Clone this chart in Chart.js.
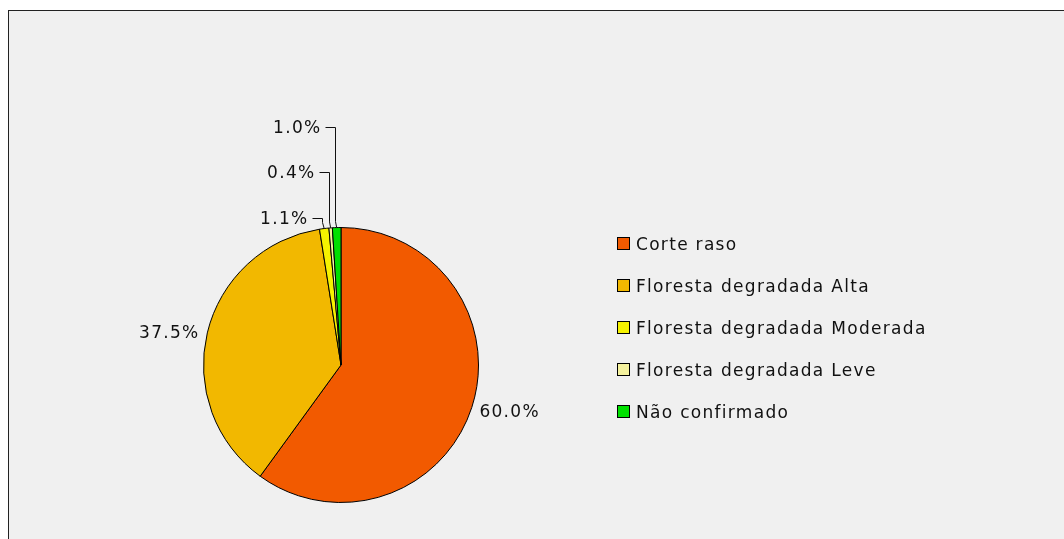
<!DOCTYPE html>
<html>
<head>
<meta charset="utf-8">
<script src="https://cdn.jsdelivr.net/npm/chart.js@4"></script>
<style>
  body { margin: 0; background: #fff; }
  #box { position: absolute; left: 8px; top: 10px; width: 1100px; height: 600px;
         background: #f0f0f0; border-left: 1px solid #222; border-top: 1px solid #222; }
  #myChart { position: absolute; left: 0; top: 0; }
</style>
</head>
<body>
<div id="box"></div>
<canvas id="myChart" width="1064" height="539"></canvas>
<script>
const categories = ["Corte raso", "Floresta degradada Alta", "Floresta degradada Moderada", "Floresta degradada Leve", "Não confirmado"];
const shares = [60.0, 37.5, 1.1, 0.4, 1.0];
const sliceColors = ["#f25a00", "#f2b800", "#f5f200", "#f5f29e", "#00e000"];

const FONT = '17px "DejaVu Sans", sans-serif';
const SPACING = "1.3px";

// percentage labels, with leader lines for the thin slices
const sliceLabels = {
  id: "sliceLabels",
  afterDatasetsDraw(chart) {
    const ctx = chart.ctx;
    const arcs = chart.getDatasetMeta(0).data;
    ctx.save();
    ctx.font = FONT;
    ctx.letterSpacing = SPACING;
    ctx.fillStyle = "#111";
    ctx.strokeStyle = "#111";
    ctx.lineWidth = 1;
    ctx.textBaseline = "middle";
    let k = 0;
    arcs.forEach((arc, i) => {
      const mid = (arc.startAngle + arc.endAngle) / 2;
      const r = arc.outerRadius;
      const text = shares[i].toFixed(1) + "%";
      if (shares[i] >= 5) {
        const lx = arc.x + Math.cos(mid) * (r + 8);
        const ly = arc.y + Math.sin(mid) * (r + 8) + 3;
        ctx.textAlign = Math.cos(mid) >= 0 ? "left" : "right";
        ctx.fillText(text, lx, ly);
      } else {
        const ax = arc.x + Math.cos(mid) * r;
        const ay = arc.y + Math.sin(mid) * r;
        const ly = Math.round(arc.y - r - 10 - k * 45.5) + 0.5;
        const vx = Math.round(ax - 2) + 0.5;
        ctx.beginPath();
        ctx.moveTo(vx - 10, ly);
        ctx.lineTo(vx, ly);
        ctx.lineTo(vx, ay - 6);
        ctx.lineTo(ax, ay);
        ctx.stroke();
        ctx.textAlign = "right";
        ctx.fillText(text, vx - 14, ly + 1);
        k++;
      }
    });
    ctx.restore();
  },
};

// legend on the right
const sideLegend = {
  id: "sideLegend",
  afterDraw(chart) {
    const ctx = chart.ctx;
    ctx.save();
    ctx.font = FONT;
    ctx.letterSpacing = SPACING;
    ctx.textBaseline = "middle";
    ctx.textAlign = "left";
    categories.forEach((name, i) => {
      const y = 244 + i * 42;
      ctx.fillStyle = sliceColors[i];
      ctx.fillRect(618, y - 6, 11, 11);
      ctx.strokeStyle = "#000";
      ctx.lineWidth = 1;
      ctx.strokeRect(617.5, Math.round(y - 6) - 0.5, 12, 12);
      ctx.fillStyle = "#111";
      ctx.fillText(name, 636, y + 2);
    });
    ctx.restore();
  },
};

let ctx = document.getElementById("myChart").getContext("2d");
let myChart = new Chart(ctx, {
  type: "pie",
  data: {
    labels: categories,
    datasets: [
      {
        data: shares,
        backgroundColor: sliceColors,
        borderColor: "#000",
        borderWidth: 1,
      },
    ],
  },
  options: {
    responsive: false,
    animation: false,
    devicePixelRatio: 1,
    layout: {
      padding: { left: 203, top: 227, right: 585, bottom: 36 },
    },
    plugins: {
      legend: { display: false },
      tooltip: { enabled: false },
    },
  },
  plugins: [sliceLabels, sideLegend],
});
</script>
</body>
</html>
